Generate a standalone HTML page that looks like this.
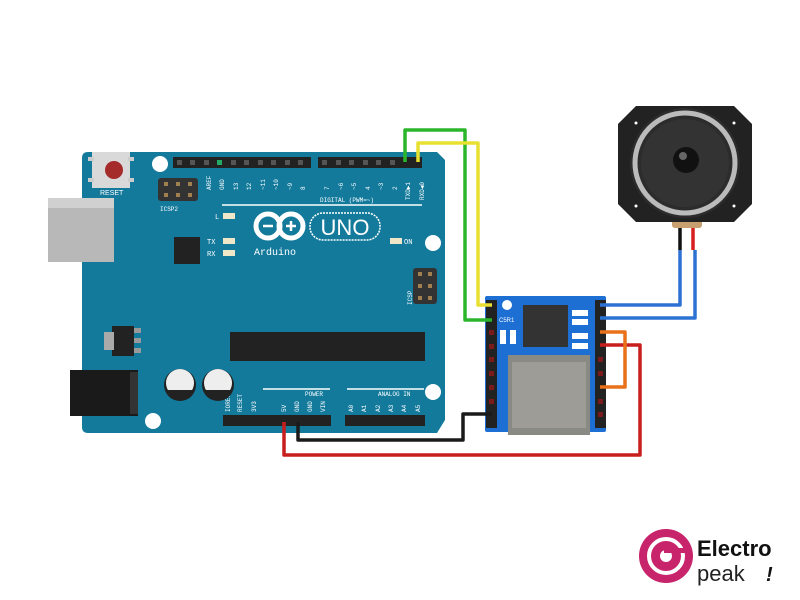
<!DOCTYPE html>
<html><head><meta charset="utf-8"><style>
body{margin:0;background:#fff;}
svg{display:block;font-family:"Liberation Sans",sans-serif;}
</style></head><body>
<svg width="800" height="600" viewBox="0 0 800 600">
<rect width="800" height="600" fill="#fff"/>
<!-- Board -->
<path d="M88 152 H437 L445 160 V232 L445 238 V420 L437 433 H88 Q82 433 82 427 V158 Q82 152 88 152Z" fill="#137a9c"/>
<!-- USB & jack -->
<rect x="48" y="198" width="66" height="64" fill="#b8b8b8"/>
<rect x="48" y="198" width="66" height="10" fill="#d0d0d0"/>
<rect x="70" y="370" width="68" height="46" fill="#1a1a1a"/>
<rect x="130" y="372" width="8" height="42" fill="#333"/>
<!-- reset -->
<rect x="92" y="152" width="38" height="36" fill="#d9d9d9"/>
<rect x="88" y="157" width="6" height="4" fill="#ccc"/><rect x="88" y="178" width="6" height="4" fill="#ccc"/>
<rect x="128" y="157" width="6" height="4" fill="#ccc"/><rect x="128" y="178" width="6" height="4" fill="#ccc"/>
<circle cx="114" cy="170" r="9" fill="#a52a2a"/>
<text x="100" y="195" font-size="7" fill="#fff">RESET</text>
<!-- holes -->
<circle cx="160" cy="164" r="8" fill="#fff"/>
<circle cx="433" cy="243" r="8" fill="#fff"/>
<circle cx="153" cy="421" r="8" fill="#fff"/>
<circle cx="433" cy="392" r="8" fill="#fff"/>
<!-- headers top -->
<rect x="173" y="157" width="138" height="11" fill="#222"/>
<rect x="318" y="157" width="104" height="11" fill="#222"/>
<g fill="#555">
<rect x="177" y="160" width="5" height="5"/><rect x="190" y="160" width="5" height="5"/><rect x="204" y="160" width="5" height="5"/><rect x="217" y="160" width="5" height="5" fill="#2a6"/><rect x="231" y="160" width="5" height="5"/><rect x="244" y="160" width="5" height="5"/><rect x="258" y="160" width="5" height="5"/><rect x="271" y="160" width="5" height="5"/><rect x="285" y="160" width="5" height="5"/><rect x="298" y="160" width="5" height="5"/>
<rect x="322" y="160" width="5" height="5"/><rect x="336" y="160" width="5" height="5"/><rect x="349" y="160" width="5" height="5"/><rect x="363" y="160" width="5" height="5"/><rect x="376" y="160" width="5" height="5"/><rect x="390" y="160" width="5" height="5"/>
</g>
<g font-size="6" fill="#fff" font-family="Liberation Mono,monospace">
<text transform="translate(211,190) rotate(-90)">AREF</text><text transform="translate(224,190) rotate(-90)">GND</text><text transform="translate(238,190) rotate(-90)">13</text><text transform="translate(251,190) rotate(-90)">12</text><text transform="translate(265,190) rotate(-90)">~11</text><text transform="translate(278,190) rotate(-90)">~10</text><text transform="translate(292,190) rotate(-90)">~9</text><text transform="translate(305,190) rotate(-90)">8</text>
<text transform="translate(329,190) rotate(-90)">7</text><text transform="translate(343,190) rotate(-90)">~6</text><text transform="translate(356,190) rotate(-90)">~5</text><text transform="translate(370,190) rotate(-90)">4</text><text transform="translate(383,190) rotate(-90)">~3</text><text transform="translate(397,190) rotate(-90)">2</text><text transform="translate(410,200) rotate(-90)">TXD▶1</text><text transform="translate(424,200) rotate(-90)">RXD◀0</text>
<text x="320" y="202">DIGITAL (PWM=~)</text>
<text transform="translate(230,412) rotate(-90)">IOREF</text><text transform="translate(242,412) rotate(-90)">RESET</text><text transform="translate(256,412) rotate(-90)">3V3</text><text transform="translate(286,412) rotate(-90)">5V</text><text transform="translate(299,412) rotate(-90)">GND</text><text transform="translate(312,412) rotate(-90)">GND</text><text transform="translate(325,412) rotate(-90)">VIN</text>
<text x="305" y="396">POWER</text><text x="378" y="396">ANALOG IN</text>
<text transform="translate(353,412) rotate(-90)">A0</text><text transform="translate(366,412) rotate(-90)">A1</text><text transform="translate(380,412) rotate(-90)">A2</text><text transform="translate(393,412) rotate(-90)">A3</text><text transform="translate(406,412) rotate(-90)">A4</text><text transform="translate(420,412) rotate(-90)">A5</text>
<text transform="translate(412,305) rotate(-90)">ICSP</text>
<text x="160" y="211">ICSP2</text>
</g>
<line x1="222" y1="205" x2="422" y2="205" stroke="#fff" stroke-width="1.5"/>
<line x1="263" y1="389" x2="330" y2="389" stroke="#fff" stroke-width="1.5"/>
<line x1="347" y1="389" x2="424" y2="389" stroke="#fff" stroke-width="1.5"/>
<!-- ICSP2 -->
<rect x="158" y="178" width="40" height="23" rx="3" fill="#333"/>
<g fill="#a08050"><rect x="164" y="182" width="4" height="4"/><rect x="176" y="182" width="4" height="4"/><rect x="188" y="182" width="4" height="4"/><rect x="164" y="193" width="4" height="4"/><rect x="176" y="193" width="4" height="4"/><rect x="188" y="193" width="4" height="4"/></g>
<!-- ICSP right -->
<rect x="413" y="268" width="24" height="36" rx="3" fill="#333"/>
<g fill="#a08050"><rect x="418" y="272" width="4" height="4"/><rect x="428" y="272" width="4" height="4"/><rect x="418" y="284" width="4" height="4"/><rect x="428" y="284" width="4" height="4"/><rect x="418" y="296" width="4" height="4"/><rect x="428" y="296" width="4" height="4"/></g>
<!-- LEDs -->
<g fill="#f0e6c8"><rect x="223" y="213" width="12" height="6"/><rect x="223" y="238" width="12" height="6"/><rect x="223" y="250" width="12" height="6"/><rect x="390" y="238" width="12" height="6"/></g>
<g font-size="7" fill="#fff" font-family="Liberation Mono,monospace"><text x="215" y="219">L</text><text x="207" y="244">TX</text><text x="207" y="256">RX</text><text x="404" y="244">ON</text></g>
<!-- logo -->
<g fill="none" stroke="#fff" stroke-width="5"><circle cx="268" cy="226" r="12"/><circle cx="291" cy="226" r="12"/></g>
<g stroke="#fff" stroke-width="2.5"><line x1="263" y1="226" x2="273" y2="226"/><line x1="286" y1="226" x2="296" y2="226"/><line x1="291" y1="221" x2="291" y2="231"/></g>
<rect x="310" y="213" width="70" height="27" rx="13" fill="none" stroke="#fff" stroke-width="1.5" stroke-dasharray="2 1"/>
<text x="345" y="235" font-size="22" fill="#fff" text-anchor="middle">UNO</text>
<text x="254" y="255" font-size="10" fill="#fff" font-family="Liberation Mono,monospace">Arduino</text>
<!-- chips -->
<rect x="174" y="237" width="26" height="27" fill="#222"/>
<rect x="230" y="332" width="195" height="29" fill="#222"/>
<rect x="112" y="326" width="22" height="30" fill="#222"/><rect x="104" y="332" width="10" height="18" fill="#aaa"/>
<rect x="134" y="328" width="7" height="5" fill="#999"/><rect x="134" y="338" width="7" height="5" fill="#999"/><rect x="134" y="348" width="7" height="5" fill="#999"/>
<!-- caps -->
<circle cx="180" cy="385" r="16" fill="#222"/><circle cx="180" cy="383" r="14" fill="#eee"/><path d="M167 390 A14 14 0 0 0 193 390Z" fill="#222"/>
<circle cx="218" cy="385" r="16" fill="#222"/><circle cx="218" cy="383" r="14" fill="#eee"/><path d="M205 390 A14 14 0 0 0 231 390Z" fill="#222"/>
<!-- bottom headers -->
<rect x="223" y="415" width="108" height="11" fill="#222"/>
<rect x="345" y="415" width="80" height="11" fill="#222"/>
<!-- DFPlayer -->
<rect x="485" y="296" width="121" height="136" rx="2" fill="#1d6fd3"/>
<rect x="486" y="300" width="11" height="128" fill="#222"/><rect x="595" y="300" width="11" height="128" fill="#222"/>
<g fill="#7a1a1a"><rect x="489" y="330" width="5" height="5"/><rect x="489" y="344" width="5" height="5"/><rect x="489" y="357" width="5" height="5"/><rect x="489" y="371" width="5" height="5"/><rect x="489" y="385" width="5" height="5"/><rect x="489" y="399" width="5" height="5"/><rect x="598" y="357" width="5" height="5"/><rect x="598" y="371" width="5" height="5"/><rect x="598" y="399" width="5" height="5"/><rect x="598" y="412" width="5" height="5"/></g>
<circle cx="507" cy="305" r="5" fill="#fff"/>
<rect x="523" y="305" width="45" height="42" fill="#333"/>
<g fill="#fff"><rect x="572" y="310" width="16" height="6"/><rect x="572" y="319" width="16" height="6"/><rect x="572" y="333" width="16" height="6"/><rect x="572" y="343" width="16" height="6"/><rect x="500" y="330" width="6" height="14"/><rect x="510" y="330" width="6" height="14"/></g>
<text x="499" y="322" font-size="6" fill="#fff">C5R1</text>
<rect x="508" y="355" width="82" height="80" fill="#8a8a85"/>
<rect x="512" y="362" width="74" height="66" fill="#9e9c96"/>
<!-- wires -->
<g fill="none" stroke-width="3.5" stroke-linejoin="round">
<polyline points="405,162 405,130 465,130 465,320 492,320" stroke="#2bb52b"/>
<polyline points="418,162 418,143 478,143 478,305 492,305" stroke="#e8e030"/>
<polyline points="298,422 298,440 463,440 463,414 492,414" stroke="#1a1a1a"/>
<polyline points="284,422 284,455 640,455 640,345 600,345" stroke="#c81e1e"/>
<polyline points="600,332 625,332 625,387 600,387" stroke="#e8711a"/>
<polyline points="600,305 680,305 680,250" stroke="#2d72d2"/>
<polyline points="600,318 695,318 695,250" stroke="#2d72d2"/>
<line x1="680" y1="250" x2="680" y2="224" stroke="#111"/>
<line x1="693" y1="250" x2="693" y2="224" stroke="#d81e1e"/>
</g>
<!-- speaker -->
<rect x="672" y="218" width="30" height="10" rx="3" fill="#c8a070"/>
<path d="M636 106 H734 L752 124 V204 L734 222 H636 L618 204 V124Z" fill="#222"/>
<circle cx="685" cy="163" r="55" fill="#2c2c2c"/>
<circle cx="685" cy="163" r="50" fill="none" stroke="#bbb" stroke-width="5"/>
<circle cx="685" cy="163" r="44" fill="#333"/>
<circle cx="686" cy="160" r="13" fill="#111"/><circle cx="683" cy="156" r="4" fill="#666"/>
<g fill="#fff"><circle cx="636" cy="123" r="1.5"/><circle cx="734" cy="123" r="1.5"/><circle cx="636" cy="206" r="1.5"/><circle cx="734" cy="206" r="1.5"/></g>
<!-- electropeak logo -->
<circle cx="666" cy="556" r="27" fill="#c8246c"/>
<circle cx="666" cy="556" r="17" fill="none" stroke="#fff" stroke-width="4"/>
<circle cx="666" cy="556" r="6" fill="#fff"/>
<rect x="664" y="548" width="24" height="5" fill="#c8246c"/>
<text x="697" y="556" font-size="22" font-weight="bold" fill="#111">Electro</text>
<text x="697" y="581" font-size="22" fill="#222">peak</text>
<text x="766" y="581" font-size="20" font-weight="bold" font-style="italic" fill="#111">!</text>
</svg>
</body></html>
